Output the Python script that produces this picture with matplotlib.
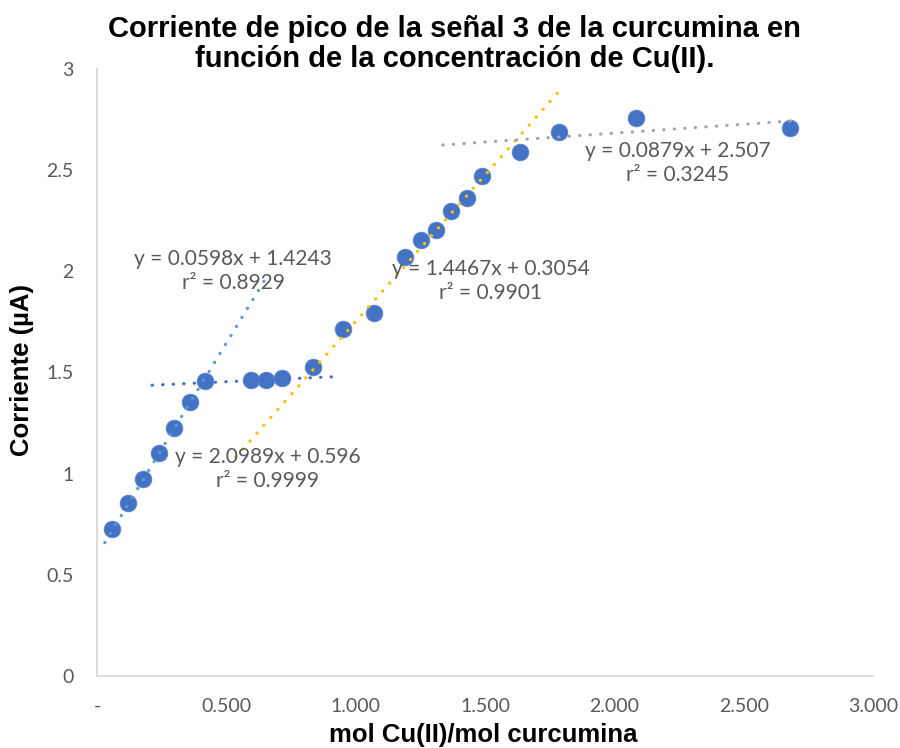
import matplotlib.pyplot as plt
import numpy as np

# relación molar Cu(II)/curcumina y corriente de pico (µA)
ratio = [0.058, 0.120, 0.178, 0.240, 0.298, 0.360, 0.417, 0.595, 0.653, 0.715,
         0.835, 0.951, 1.071, 1.190, 1.252, 1.310, 1.368, 1.430, 1.488, 1.635,
         1.786, 2.083, 2.679]
corriente = [0.727, 0.855, 0.974, 1.100, 1.226, 1.354, 1.458, 1.463, 1.463, 1.473,
             1.527, 1.715, 1.794, 2.071, 2.155, 2.205, 2.300, 2.363, 2.470, 2.590,
             2.690, 2.758, 2.709]

# lineas de tendencia: pendiente, ordenada, r2, tramo en x
pendientes = [2.0989, 0.0598, 1.4467, 0.0879]
ordenadas = [0.596, 1.4243, 0.3054, 2.507]
r2 = ["0.9999", "0.8929", "0.9901", "0.3245"]
tramos = [(0.03, 0.66), (0.213, 0.912), (0.537, 1.79), (1.337, 2.68)]
colores = ["#5B9BD5", "#4472C4", "#FFC000", "#A5A5A5"]
etiquetas_pos = [(0.661, 1.023), (0.526, 2.002), (1.523, 1.953), (2.246, 2.533)]
etiquetas_txt = ["y = 2.0989x + 0.596", "y = 0.0598x + 1.4243",
                 "y = 1.4467x + 0.3054", "y = 0.0879x + 2.507"]

xticks = [0, 0.5, 1.0, 1.5, 2.0, 2.5, 3.0]
xticklabels = ["-", "0.500", "1.000", "1.500", "2.000", "2.500", "3.000"]
yticks = [0, 0.5, 1, 1.5, 2, 2.5, 3]
yticklabels = ["0", "0.5", "1", "1.5", "2", "2.5", "3"]

fig = plt.figure(figsize=(9, 7.48), dpi=100)
ax = fig.add_axes([0.1078, 0.0963, 0.8622, 0.8115])

ax.plot(ratio, corriente, 'o', color="#4472C4", markersize=12,
        markeredgecolor="#5B86CF", markeredgewidth=0.6, zorder=2)

for m, b, (x0, x1), c in zip(pendientes, ordenadas, tramos, colores):
    xs = np.array([x0, x1])
    ax.plot(xs, m * xs + b, color=c, lw=2.3, linestyle=(0, (0.1, 3.2)),
            dash_capstyle="round", zorder=3)

gris = "#595959"
for (tx, ty), txt, r in zip(etiquetas_pos, etiquetas_txt, r2):
    ax.text(tx, ty, txt + "\nr² = " + r, ha="center", va="center",
            fontsize=15, color=gris, family="Lato", linespacing=1.25, zorder=4)

ax.set_xlim(0, 3)
ax.set_ylim(0, 3)
ax.set_xticks(xticks)
ax.set_xticklabels(xticklabels)
ax.set_yticks(yticks)
ax.set_yticklabels(yticklabels)
ax.tick_params(length=0, labelsize=14, labelcolor=gris)
ax.tick_params(axis="x", pad=16)
ax.tick_params(axis="y", pad=17)
for lbl in ax.get_xticklabels() + ax.get_yticklabels():
    lbl.set_family("Lato")

for s in ["top", "right"]:
    ax.spines[s].set_visible(False)
for s in ["left", "bottom"]:
    ax.spines[s].set_color("#D9D9D9")
    ax.spines[s].set_linewidth(1.3)

fig.text(0.537, 0.018, "mol Cu(II)/mol curcumina", fontsize=18.5,
         fontweight="bold", family="Liberation Sans", ha="center", va="center")
fig.text(0.025, 0.505, "Corriente (µA)", fontsize=18.5, fontweight="bold",
         family="Liberation Sans", ha="center", va="center", rotation=90)
fig.text(0.505, 0.941, "Corriente de pico de la señal 3 de la curcumina en\n"
         "función de la concentración de Cu(II).", fontsize=21,
         fontweight="bold", family="Liberation Sans", ha="center", va="center",
         linespacing=1.1)

fig.savefig("out.png", dpi=100)
